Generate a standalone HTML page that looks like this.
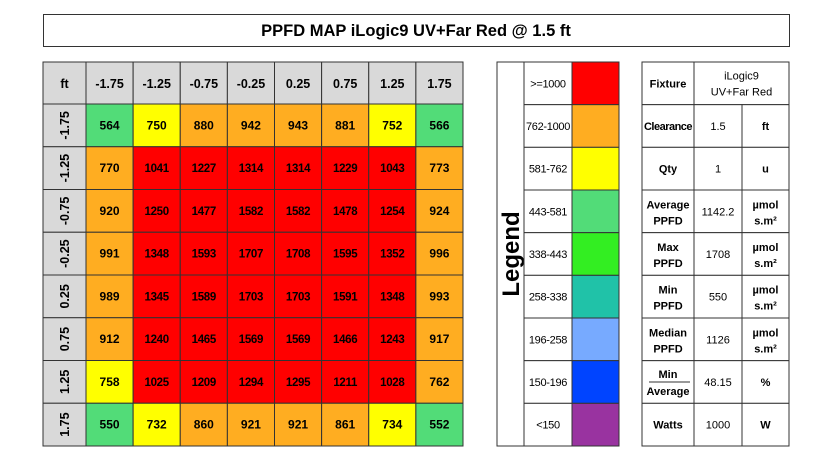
<!DOCTYPE html><html><head><meta charset="utf-8"><style>body{margin:0;background:#fff}svg{display:block;font-family:"Liberation Sans",Arial,sans-serif}</style></head><body>
<svg width="833" height="457" viewBox="0 0 833 457">
<rect x="43.5" y="14.5" width="746" height="32" fill="#fff" stroke="#333"/>
<text x="416" y="36" text-anchor="middle" font-size="16.5" font-weight="bold">PPFD MAP iLogic9 UV+Far Red @ 1.5 ft</text>
<g stroke="#333" stroke-width="1">
<rect x="43" y="62" width="420" height="42" fill="#d9d9d9"/>
<rect x="43" y="104" width="43" height="342" fill="#d9d9d9"/>
</g>
<g id="cells" stroke="#333" stroke-width="1"></g>
<g id="txt" font-size="12" font-weight="bold" text-anchor="middle"></g>
<g stroke="#333" fill="none"><rect x="497" y="62" width="122" height="384"/></g>
<text transform="translate(519,254) rotate(-90)" text-anchor="middle" font-size="24" font-weight="bold">Legend</text>
<g id="leg" stroke="#333"></g>
<g id="fix" stroke="#333"></g>
<script>
var NS="http://www.w3.org/2000/svg";
function el(p,t,a,txt){var e=document.createElementNS(NS,t);for(var k in a)e.setAttribute(k,a[k]);if(txt!==undefined)e.textContent=txt;p.appendChild(e);return e;}
var C={G:"#52dc78",Y:"#ffff00",O:"#ffad21",R:"#ff0000"};
var d=[[564,750,880,942,943,881,752,566],[770,1041,1227,1314,1314,1229,1043,773],[920,1250,1477,1582,1582,1478,1254,924],[991,1348,1593,1707,1708,1595,1352,996],[989,1345,1589,1703,1703,1591,1348,993],[912,1240,1465,1569,1569,1466,1243,917],[758,1025,1209,1294,1295,1211,1028,762],[550,732,860,921,921,861,734,552]];
var cols=["G Y O O O O Y G","O R R R R R R O","O R R R R R R O","O R R R R R R O","O R R R R R R O","O R R R R R R O","Y R R R R R R O","G Y O O O O Y G"];
var lab=["-1.75","-1.25","-0.75","-0.25","0.25","0.75","1.25","1.75"];
var cg=document.getElementById("cells"),tg=document.getElementById("txt");
var cw=47.125,rh=42.75;
el(tg,"text",{x:64.5,y:88,"font-size":12.5},"ft");
for(var i=0;i<8;i++){
 el(cg,"rect",{x:86+cw*i,y:62,width:cw,height:42,fill:"#d9d9d9"});
 el(tg,"text",{x:86+cw*i+cw/2,y:88,"font-size":12.5},lab[i]);
 el(cg,"rect",{x:43,y:104+rh*i,width:43,height:rh,fill:"#d9d9d9"});
 el(tg,"text",{transform:"translate("+69+","+(104+rh*i+rh/2)+") rotate(-90)","font-size":12.5},lab[i]);
}
for(var r=0;r<8;r++){var cc=cols[r].split(" ");for(var c=0;c<8;c++){
 el(cg,"rect",{x:86+cw*c,y:104+rh*r,width:cw,height:rh,fill:C[cc[c]]});
 var v=d[r][c];el(tg,"text",{x:86+cw*c+cw/2,y:104+rh*r+rh/2+4,"font-size":v>=1000?11.5:12,"letter-spacing":v>=1000?"-0.3":"0"},v);
}}
var lg=document.getElementById("leg");var lh=384/9;
var L=[[">=1000","#ff0000"],["762-1000","#ffad21"],["581-762","#ffff00"],["443-581","#52dc78"],["338-443","#33ee22"],["258-338","#20c2a8"],["196-258","#77aaff"],["150-196","#0044ff"],["<150","#9933a0"]];
for(var i=0;i<9;i++){var y=62+lh*i;
 el(lg,"rect",{x:524,y:y,width:48,height:lh,fill:"#fff"});
 el(lg,"rect",{x:572,y:y,width:47,height:lh,fill:L[i][1]});
 el(lg,"text",{x:548,y:y+lh/2+4,"text-anchor":"middle","font-size":11,"letter-spacing":"-0.3",stroke:"none"},L[i][0]);
}
var fg=document.getElementById("fix");
var F=[["Fixture",null,""],["Clearance","1.5","ft"],["Qty","1","u"],["Average|PPFD","1142.2","µmol|s.m²"],["Max|PPFD","1708","µmol|s.m²"],["Min|PPFD","550","µmol|s.m²"],["Median|PPFD","1126","µmol|s.m²"],["MINAVG","48.15","%"],["Watts","1000","W"]];
function mt(x,y,s,b){var p=s.split("|");var a={x:x,"text-anchor":"middle","font-size":11,"font-weight":b?"bold":"normal",stroke:"none"};if(s=="Clearance")a["letter-spacing"]="-0.5";if(p.length==1){a.y=y+4;el(fg,"text",a,s);}else{a.y=y-3;el(fg,"text",a,p[0]);var b2=Object.assign({},a);b2.y=y+13;el(fg,"text",b2,p[1]);}}
for(var i=0;i<9;i++){var y=62+lh*i,cy=y+lh/2;
 el(fg,"rect",{x:642,y:y,width:52,height:lh,fill:"#fff"});
 if(i==0){el(fg,"rect",{x:694,y:y,width:95,height:lh,fill:"#fff"});
  el(fg,"text",{x:741.5,y:cy-4,"text-anchor":"middle","font-size":11,stroke:"none"},"iLogic9");
  el(fg,"text",{x:741.5,y:cy+12,"text-anchor":"middle","font-size":11,stroke:"none"},"UV+Far Red");
 }else{el(fg,"rect",{x:694,y:y,width:48,height:lh,fill:"#fff"});el(fg,"rect",{x:742,y:y,width:47,height:lh,fill:"#fff"});
  mt(718,cy,F[i][1],false);mt(765.5,cy,F[i][2],true);}
 if(F[i][0]=="MINAVG"){el(fg,"text",{x:668,y:cy-4,"text-anchor":"middle","font-size":11,"font-weight":"bold",stroke:"none"},"Min");
  el(fg,"line",{x1:649,x2:690,y1:cy,y2:cy,"stroke-width":1});
  el(fg,"text",{x:668,y:cy+13,"text-anchor":"middle","font-size":11,"font-weight":"bold",stroke:"none"},"Average");}
 else mt(668,cy,F[i][0],true);
}
</script>
</svg></body></html>
